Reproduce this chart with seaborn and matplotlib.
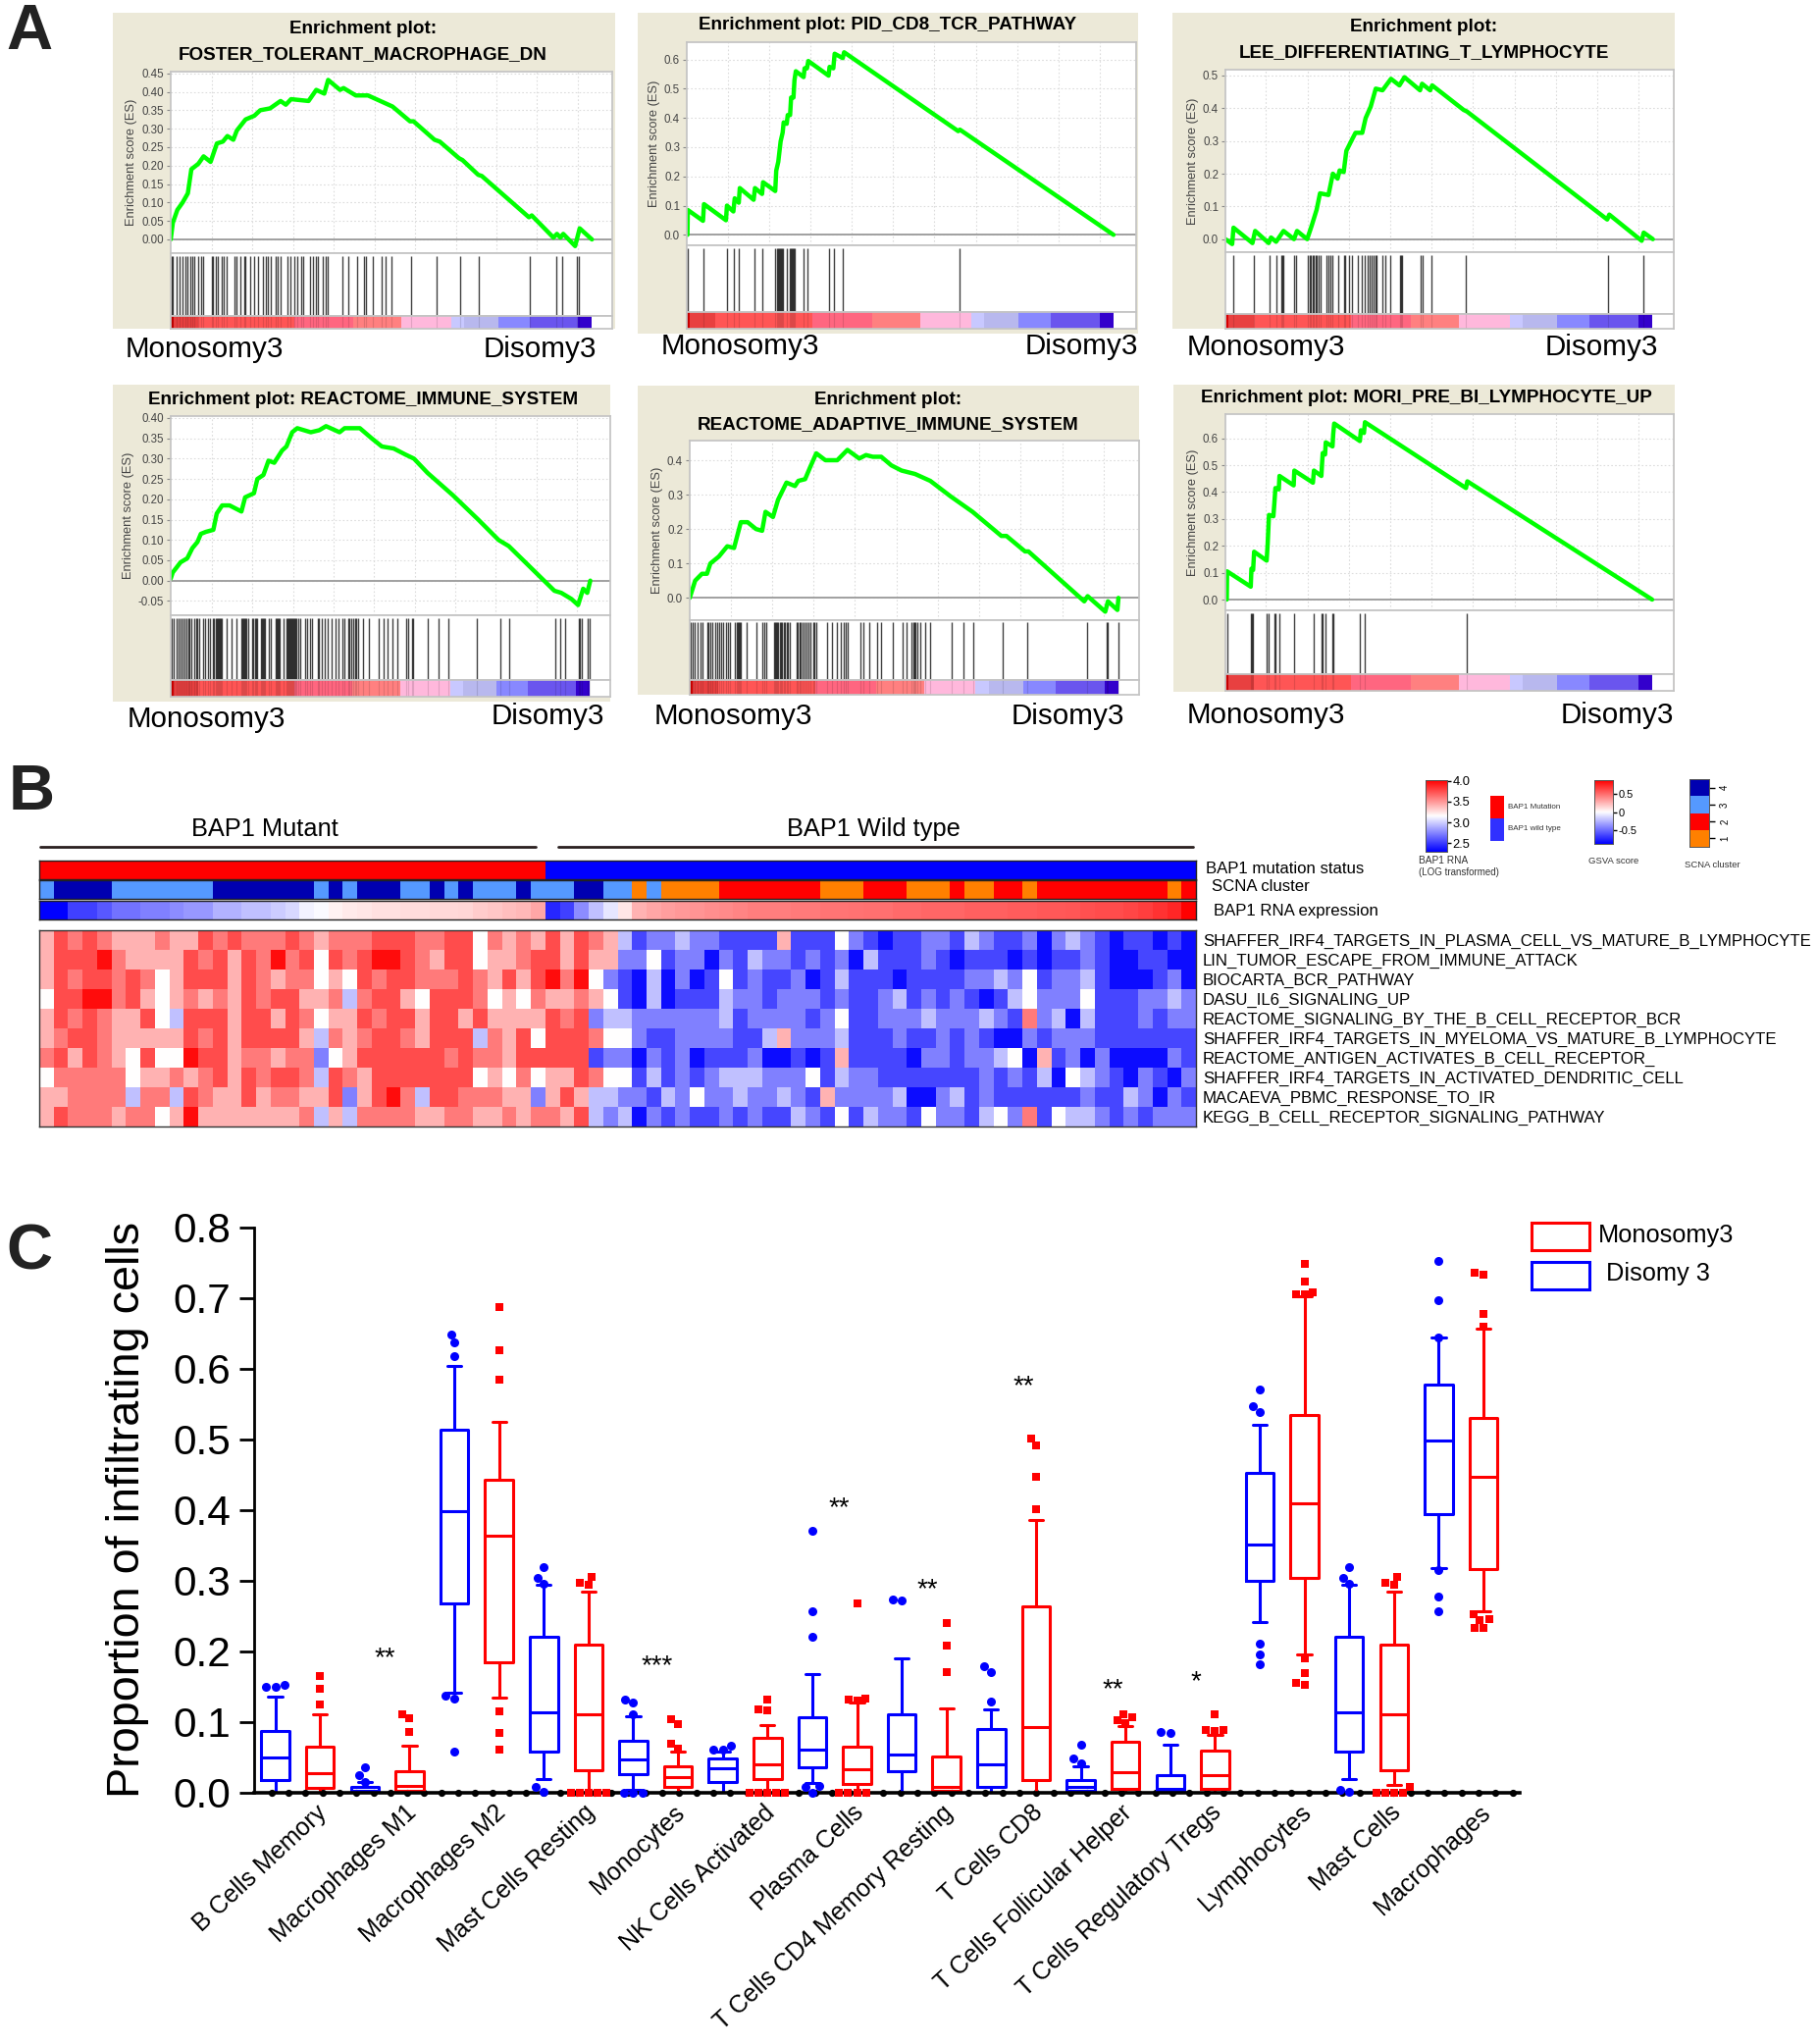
import numpy as np
import pandas as pd
import matplotlib
matplotlib.use("Agg")
import matplotlib.pyplot as plt
import seaborn as sns
from matplotlib.colors import ListedColormap
from matplotlib.patches import Rectangle
from matplotlib.transforms import ScaledTranslation

W, H = 1853, 2083

# panel A: running enrichment score, x is rank along the ranked list
foster_rank = [206,212,225,240,255,265,285,300,320,338,355,368,385,395,420,445,462,490,520,535,550,600,622,645,656,690,700,735,770,840,890,900,960,975,1030,1040,1085,1095,1230,1238,1300,1310,1320,1328,1362,1375,1410]
foster_es = [0,.045,.08,.1,.125,.19,.205,.225,.21,.26,.265,.28,.27,.295,.325,.335,.35,.355,.375,.365,.38,.375,.405,.395,.432,.405,.41,.39,.39,.36,.32,.32,.27,.265,.22,.215,.175,.172,.06,.065,.005,.015,.005,.015,-.018,.03,0]
foster_hits = [208,213,222,232,240,248,255,262,268,272,285,292,298,323,327,335,342,352,358,365,388,393,405,415,420,432,445,455,470,478,485,492,505,512,520,540,548,560,568,578,585,605,612,620,628,640,650,655,697,715,738,758,765,785,808,820,838,893,965,1032,1087,1233,1308,1325,1368,1372]

pid_rank = [176,177,222,225,290,293,312,316,328,331,372,376,397,400,436,439,445,452,458,461,470,473,480,483,490,493,497,520,523,530,534,594,597,608,612,636,640,978,983,1438]
pid_es = [0,.085,.048,.105,.05,.1,.08,.125,.11,.16,.12,.16,.14,.18,.15,.22,.25,.32,.35,.385,.38,.41,.41,.47,.47,.53,.56,.54,.57,.57,.595,.545,.575,.57,.62,.605,.625,.355,.36,0]
pid_hits = [177,222,292,313,328,374,398,437,440,443,446,449,452,455,458,469,480,483,486,489,492,495,521,530,594,610,637,982]

lee_rank = [200,220,224,280,288,328,335,350,372,403,412,442,455,470,480,505,518,532,538,550,558,575,585,605,615,630,645,665,690,715,730,776,782,806,812,905,915,1330,1336,1432,1438,1465]
lee_es = [0,-.015,.035,-.012,.025,-.012,.005,-.008,.025,0,.025,0,.04,.09,.14,.135,.2,.185,.21,.205,.27,.305,.325,.325,.37,.405,.46,.455,.49,.47,.495,.455,.475,.455,.47,.395,.39,.06,.075,-.005,.02,0]
lee_hits = [222,285,332,352,365,368,372,402,410,444,449,453,458,462,466,471,476,481,500,505,510,516,534,550,555,565,575,593,603,612,620,626,632,638,643,648,664,672,688,716,720,724,778,783,810,910,1333,1436]

immune_rank = [216,222,245,265,280,295,305,320,342,352,368,390,425,436,462,472,490,505,522,545,558,575,590,630,655,675,715,730,775,810,840,875,910,935,975,1050,1125,1185,1215,1350,1370,1400,1420,1435,1447,1456]
immune_es = [.005,.02,.045,.055,.08,.095,.115,.12,.125,.165,.185,.185,.17,.205,.215,.25,.26,.295,.29,.32,.33,.365,.375,.365,.37,.38,.365,.375,.375,.35,.33,.325,.31,.3,.265,.21,.15,.1,.085,-.025,-.03,-.045,-.06,-.02,-.03,0]
immune_hits = [218,224,232,238,245,252,258,262,268,272,276,285,290,295,300,312,318,325,333,340,345,348,351,354,357,360,364,368,382,395,410,425,428,431,434,437,440,445,458,461,464,467,470,482,485,488,491,494,505,512,525,528,531,534,537,548,558,561,564,567,570,573,576,579,582,585,588,592,600,612,620,628,634,650,655,662,670,680,692,702,712,722,730,740,745,750,755,760,765,770,785,803,832,845,858,872,885,912,918,928,933,976,1007,1036,1121,1190,1215,1354,1366,1381,1421,1425,1431,1448,1454]

adaptive_rank = [184,200,220,235,245,270,295,315,335,355,380,398,408,430,445,470,495,505,525,540,558,585,620,650,685,705,725,750,780,810,850,895,955,1020,1105,1120,1175,1185,1350,1360,1412,1420,1448,1451]
adaptive_es = [0,.05,.07,.07,.1,.12,.15,.145,.22,.22,.2,.195,.25,.235,.285,.335,.325,.34,.345,.38,.42,.4,.4,.43,.405,.415,.41,.41,.385,.37,.36,.34,.295,.25,.18,.18,.135,.135,-.01,.005,-.04,-.01,-.035,0]
adaptive_hits = [186,192,198,206,216,222,236,240,244,252,258,265,272,278,284,290,296,302,318,322,325,328,331,335,352,382,398,405,410,432,435,438,442,446,450,454,458,462,466,470,475,480,500,504,508,512,516,524,530,536,542,548,553,558,590,604,620,630,640,645,650,688,698,716,738,750,785,813,825,840,844,848,852,856,866,880,895,958,992,1022,1110,1180,1358,1416,1419,1450]

mori_rank = [204,205,275,277,282,285,322,325,329,342,345,348,358,360,402,404,459,462,484,486,488,495,497,517,519,522,598,601,610,613,912,916,1463]
mori_es = [0,.105,.048,.115,.11,.178,.145,.205,.315,.31,.36,.415,.41,.46,.425,.48,.435,.48,.46,.505,.545,.54,.585,.57,.615,.655,.59,.63,.62,.66,.415,.44,0]
mori_hits = [205,275,279,282,323,328,345,348,360,402,460,484,488,496,517,520,599,611,913]

metric_widths = [6,60,228,140,113,120,30,81,75,114,33]
metric_colors = ["#d80000","#e84040","#ff5555","#ff6680","#ff8080","#ffb8dc","#c8c8ff","#b8b8ee","#8888ff","#6a55ee","#3300cc"]

# panel B
status_codes = [1]*35 + [0]*45
scna_codes = [3,4,3,4,3,4,3,4,3,4,3,4,3,4,3,4,3,1,3,1,2,1,2,1,2,1,2,1,2,1,2]
scna_lengths = [1,4,7,7,1,1,1,3,2,1,1,1,3,1,3,2,2,1,1,4,7,3,3,3,1,2,2,1,9,1,1]
scna_colors = ["#ff8000","#ff0000","#5599ff","#0000b0"]
rna_expr = [-1,-1,-.75,-.75,-.65,-.55,-.55,-.5,-.5,-.45,-.4,-.4,-.3,-.3,-.25,-.25,-.2,-.15,-.05,-.02,.05,.08,.1,.12,.12,.14,.14,.15,.15,.16,.2,.22,.25,.28,.35,
            -.85,-.75,-.45,-.25,-.1,.1,.3,.35,.38,.4,.42,.44,.46,.48,.5,.5,.5,.52,.52,.54,.54,.55,.56,.56,.58,.58,.6,.6,.6,.62,.62,.62,.64,.64,.65,.65,.66,.68,.7,.7,.72,.75,.8,.85,1.0]

gene_sets = ["SHAFFER_IRF4_TARGETS_IN_PLASMA_CELL_VS_MATURE_B_LYMPHOCYTE","LIN_TUMOR_ESCAPE_FROM_IMMUNE_ATTACK",
             "BIOCARTA_BCR_PATHWAY","DASU_IL6_SIGNALING_UP","REACTOME_SIGNALING_BY_THE_B_CELL_RECEPTOR_BCR",
             "SHAFFER_IRF4_TARGETS_IN_MYELOMA_VS_MATURE_B_LYMPHOCYTE","REACTOME_ANTIGEN_ACTIVATES_B_CELL_RECEPTOR_",
             "SHAFFER_IRF4_TARGETS_IN_ACTIVATED_DENDRITIC_CELL","MACAEVA_PBMC_RESPONSE_TO_IR","KEGG_B_CELL_RECEPTOR_SIGNALING_PATHWAY"]
# gsva scores read as coarse levels, one digit per sample
gsva_levels = [-.95,-.72,-.5,-.25,0,.3,.52,.7,.95]
gsva_rows = [
    "5767655565"+"5767666765"+"6667776677"+"4656575765"+"3122322111"+"1511142101"+"1221321120"+"2321011010",
    "5777865555"+"7675768674"+"7678876577"+"4556775755"+"2241220213"+"2212120311"+"1210111010"+"1121001100",
    "5767767645"+"7775765664"+"5476776667"+"6575786842"+"1030201412"+"1120131110"+"1111223241"+"2231000120",
    "4778867545"+"6565767755"+"6367754777"+"6454655654"+"1030111322"+"1222121123"+"1212101342"+"2241112232",
    "5767655743"+"7775775764"+"5576775775"+"7555576723"+"3222222312"+"2221241122"+"2322232162"+"3031112122",
    "5677655555"+"7675777753"+"6567765777"+"3657477764"+"4211222211"+"3522231112"+"1121210021"+"2221111111",
    "6757654744"+"8775665662"+"4577777767"+"6657777712"+"2021201112"+"0010151111"+"0221223405"+"1202000021",
    "4666664556"+"5675767763"+"7657777777"+"4546455764"+"4131212333"+"2224132211"+"1111121213"+"0432102102",
    "5566663663"+"7655756655"+"7257863776"+"6655257533"+"2213242232"+"2321522223"+"0023121111"+"1121132021",
    "5766656645"+"8555555563"+"5366665566"+"5565665732"+"3021211212"+"1132141322"+"1422134261"+"4332121222",
]

# panel C, 28 boxes in Disomy / Monosomy pairs
cell_types = ["B Cells Memory","Macrophages M1","Macrophages M2","Mast Cells Resting","Monocytes","NK Cells Activated",
              "Plasma Cells","T Cells CD4 Memory Resting","T Cells CD8","T Cells Follicular Helper","T Cells Regulatory Tregs",
              "Lymphocytes","Mast Cells","Macrophages"]
whisker_low = [0,0,0,0,.141,.134,.019,0,.003,0,0,0,.013,0,0,0,0,0,0,0,0,0,.241,.196,.019,.011,.317,.256]
q1 = [.018,.006,0,.002,.268,.184,.057,.031,.026,.007,.014,.019,.036,.012,.03,.002,.008,.018,.002,.005,.001,.005,.299,.304,.057,.031,.394,.316]
median = [.05,.027,.002,.009,.398,.363,.113,.11,.047,.021,.034,.04,.061,.032,.054,.008,.04,.092,.008,.028,.005,.024,.351,.41,.113,.11,.499,.447]
q3 = [.087,.064,.008,.03,.514,.443,.22,.209,.073,.037,.048,.077,.107,.064,.111,.051,.089,.264,.018,.071,.025,.059,.452,.535,.22,.209,.578,.53]
whisker_high = [.135,.11,.014,.066,.604,.525,.294,.284,.108,.057,.057,.095,.167,.127,.19,.119,.118,.386,.037,.094,.068,.081,.521,.702,.294,.284,.644,.657]
outliers = [
    [.152,.15,.15],[.165,.146,.125],[.036,.025,.015],[.111,.105,.085],
    [.649,.637,.618,.137,.133,.058],[.687,.626,.584,.115,.084,.06],
    [.319,.304,.295,.007,.001],[.305,.297,.294,0,0,0,0,0],
    [.132,.127,.111,0,0,0],[.104,.096,.069,.062],
    [.066,.06,.06],[.131,.116,.117,0,0,0,0,0],
    [.371,.256,.22,.009,.008,0],[.267,.132,.13,.133,0,0,0,0],
    [.273,.272],[.24,.208,.17],
    [.178,.17,.129],[.501,.491,.447,.401],
    [.068,.048,.041],[.11,.106,.102,.098],
    [.085,.084],[.11,.088,.087,.088],
    [.571,.547,.538,.211,.196,.182],[.749,.724,.708,.706,.705,.19,.169,.155,.152],
    [.319,.304,.295,.004,.001],[.305,.297,.294,.008,0,0,0,0],
    [.753,.697,.644,.315,.277,.257],[.736,.733,.678,.66,.252,.245,.244,.233,.233],
]
star_labels = ["**","***","**","**","**","**","*"]
star_box = [2.44,8.52,12.59,14.57,16.72,18.71,20.57]
star_value = [.195,.184,.408,.293,.58,.151,.162]

sns.set_theme(style="white", rc={"text.color": "black", "axes.labelcolor": "black",
                                 "xtick.color": "black", "ytick.color": "black"})
plt.rcParams["font.family"] = ["Liberation Sans", "DejaVu Sans"]

fig = plt.figure(figsize=(W / 100, H / 100), dpi=100, facecolor="white")


def px_axes(left, top, right, bottom):
    return fig.add_axes([left / W, 1 - bottom / H, (right - left) / W, (bottom - top) / H])


bg = fig.add_axes([0, 0, 1, 1], zorder=-1)
bg.set_xlim(0, W)
bg.set_ylim(H, 0)
bg.axis("off")


def gsea_panel(p):
    bg.add_patch(Rectangle((p["beige"][0], p["beige"][1]), p["beige"][2] - p["beige"][0], p["beige"][3] - p["beige"][1],
                           facecolor="#ece9d8", edgecolor="none"))
    for y, line in zip(p["title_y"], p["title"]):
        bg.text(p["title_x"], y + 2, line, ha="center", va="center", fontsize=13.6, fontweight="bold")
    bg.text(p["mono"][0], p["mono"][1] + 1, "Monosomy3", ha="left", va="center", fontsize=21.3)
    bg.text(p["diso"][0], p["diso"][1] + 1, "Disomy3", ha="right", va="center", fontsize=21.3)

    left, right = p["x"]
    top, low, rug_low, bar_low = p["y"]
    ax = px_axes(left, top, right, low)
    zero, ref_y, ref_val = p["zero"], p["ref"][0], p["ref"][1]
    per_px = ref_val / (zero - ref_y)
    ax.set_ylim((zero - low) * per_px, (zero - top) * per_px)
    ax.set_xlim(*p["xlim"])
    ax.set_xticks(np.arange(p["grid"][0], p["xlim"][1], p["grid"][1]))
    ax.set_yticks(p["ticks"])
    ax.set_yticklabels([p["fmt"] % t for t in p["ticks"]])
    ax.set_xticklabels([])
    ax.grid(True, color="#dcdcdc", lw=0.8, ls=(0, (1.5, 2)))
    ax.axhline(0, color="#a0a0a0", lw=1.4)
    sns.lineplot(x=p["rank"], y=p["es"], sort=False, estimator=None, color="#00ff00", lw=3.2, ax=ax)
    ax.tick_params(axis="y", left=True, length=3, width=0.8, color="#888888", labelsize=8.3, labelcolor="#444444", pad=2)
    ax.set_ylabel("Enrichment score (ES)", fontsize=9.3, color="#444444", labelpad=3)
    for s in ax.spines.values():
        s.set_color("#c4c4c4")

    rug = px_axes(left, low, right, rug_low)
    rug.set_xlim(*p["xlim"])
    rug.set_ylim(0, 1)
    sns.rugplot(x=p["hits"], height=0.96, color="black", lw=1.2, alpha=0.75, expand_margins=False, ax=rug)
    rug.set_xticks([])
    rug.set_yticks([])
    for s in rug.spines.values():
        s.set_color("#c4c4c4")

    bar = px_axes(left, rug_low, right, bar_low)
    strip = np.repeat(np.arange(len(metric_widths)), metric_widths)[None, :]
    bar.imshow(strip, cmap=ListedColormap(metric_colors), aspect="auto", interpolation="nearest",
               extent=[p["xlim"][0], p["bar_end"], 0, 1])
    bar.vlines(p["hits"], 0, 1, color="black", lw=0.8, alpha=0.12)
    bar.set_xlim(*p["xlim"])
    bar.set_ylim(0, 1)
    bar.set_xticks([])
    bar.set_yticks([])
    for s in bar.spines.values():
        s.set_color("#c4c4c4")


panels = [
    dict(rank=foster_rank, es=foster_es, hits=foster_hits, title=["Enrichment plot:", "FOSTER_TOLERANT_MACROPHAGE_DN"],
         title_x=370, title_y=[28, 54], beige=(115, 13, 627, 335), x=(174, 624), y=(73, 258, 322, 335), xlim=(206, 1468),
         bar_end=1407, zero=244, ref=(74.7, .45), ticks=[0, .05, .1, .15, .2, .25, .3, .35, .4, .45], fmt="%.2f",
         grid=(323, 116.3), mono=(128, 355), diso=(608, 355)),
    dict(rank=pid_rank, es=pid_es, hits=pid_hits, title=["Enrichment plot: PID_CD8_TCR_PATHWAY"],
         title_x=905, title_y=[24], beige=(650, 13, 1160, 340), x=(700, 1158), y=(43, 250, 318, 335), xlim=(174, 1505),
         bar_end=1438, zero=239.3, ref=(60.7, .6), ticks=[0, .1, .2, .3, .4, .5, .6], fmt="%.1f",
         grid=(295, 122.5), mono=(674, 352), diso=(1160, 352)),
    dict(rank=lee_rank, es=lee_es, hits=lee_hits, title=["Enrichment plot:", "LEE_DIFFERENTIATING_T_LYMPHOCYTE"],
         title_x=1451, title_y=[26, 52], beige=(1195, 13, 1707, 335), x=(1249, 1706), y=(71, 257, 320, 335), xlim=(200, 1527),
         bar_end=1463, zero=243.7, ref=(77, .5), ticks=[0, .1, .2, .3, .4, .5], fmt="%.1f",
         grid=(320, 122.6), mono=(1210, 353), diso=(1690, 353)),
    dict(rank=immune_rank, es=immune_es, hits=immune_hits, title=["Enrichment plot: REACTOME_IMMUNE_SYSTEM"],
         title_x=370, title_y=[405], beige=(115, 392, 622, 715), x=(174, 622), y=(424, 627, 693, 710), xlim=(216, 1515),
         bar_end=1453, zero=591.7, ref=(426, .4), ticks=[-.05, 0, .05, .1, .15, .2, .25, .3, .35, .4], fmt="%.2f",
         grid=(337, 120), mono=(130, 732), diso=(616, 729)),
    dict(rank=adaptive_rank, es=adaptive_es, hits=adaptive_hits, title=["Enrichment plot:", "REACTOME_ADAPTIVE_IMMUNE_SYSTEM"],
         title_x=905, title_y=[406, 431], beige=(650, 393, 1161, 708), x=(703, 1161), y=(449, 632, 693, 708), xlim=(184, 1512),
         bar_end=1450, zero=609.3, ref=(469, .4), ticks=[0, .1, .2, .3, .4], fmt="%.1f",
         grid=(305, 122.5), mono=(667, 729), diso=(1146, 729)),
    dict(rank=mori_rank, es=mori_es, hits=mori_hits, title=["Enrichment plot: MORI_PRE_BI_LYMPHOCYTE_UP"],
         title_x=1454, title_y=[403], beige=(1196, 392, 1707, 705), x=(1249, 1706), y=(422, 622, 687, 704), xlim=(200, 1527),
         bar_end=1463, zero=611, ref=(446.7, .6), ticks=[0, .1, .2, .3, .4, .5, .6], fmt="%.1f",
         grid=(320, 122.6), mono=(1210, 728), diso=(1706, 728)),
]
for panel in panels:
    gsea_panel(panel)

for letter, x, y in [("A", 30, 33), ("B", 32, 808), ("C", 30, 1277)]:
    bg.text(x, y, letter, ha="center", va="center", fontsize=47, color="#222222", fontweight="bold")

# panel B
heat_left, heat_right = 40, 1219


def strip_axes(top, bottom, values, **kw):
    a = px_axes(heat_left, top, heat_right, bottom)
    sns.heatmap(np.array([values]), ax=a, cbar=False, xticklabels=False, yticklabels=False, **kw)
    for s in a.spines.values():
        s.set_visible(True)
        s.set_color("#222222")
        s.set_linewidth(1.0)
    return a


strip_axes(877, 896, status_codes, cmap=ListedColormap(["#0000ff", "#ff0000"]), vmin=0, vmax=1)
strip_axes(897, 916, np.repeat(scna_codes, scna_lengths), cmap=ListedColormap(scna_colors), vmin=1, vmax=4)
strip_axes(918, 937, rna_expr, cmap="bwr", vmin=-1, vmax=1)

gsva = pd.DataFrame([[gsva_levels[int(c)] for c in row] for row in gsva_rows], index=gene_sets)
ax_heat = px_axes(heat_left, 948, heat_right, 1148)
sns.heatmap(gsva, ax=ax_heat, cmap="bwr", vmin=-1, vmax=1, cbar=False, xticklabels=False, yticklabels=True)
ax_heat.yaxis.tick_right()
ax_heat.tick_params(axis="y", length=0, pad=5, labelsize=12.05, labelrotation=0)
ax_heat.set_ylabel("")
for lab in ax_heat.get_yticklabels():
    lab.set_va("center_baseline")
for s in ax_heat.spines.values():
    s.set_visible(True)
    s.set_color("#333333")
    s.set_linewidth(1.0)

bg.plot([41, 546], [863, 863], color="#2a2020", lw=2)
bg.plot([569, 1216], [863, 863], color="#2a2020", lw=2)
bg.text(270, 845, "BAP1 Mutant", ha="center", va="center", fontsize=18.3)
bg.text(890, 845, "BAP1 Wild type", ha="center", va="center", fontsize=18.3)
bg.text(1229, 885, "BAP1 mutation status", va="center", fontsize=12.1)
bg.text(1235, 904, "SCNA cluster", va="center", fontsize=12.1)
bg.text(1237, 928, "BAP1 RNA expression", va="center", fontsize=12.1)

grad = np.linspace(1, -1, 128)[:, None]
ax_rna = px_axes(1453, 795, 1475, 868)
ax_rna.imshow(grad, cmap="bwr", aspect="auto", extent=[0, 1, 2.29, 4.02])
ax_rna.set_xticks([])
ax_rna.set_yticks([2.5, 3, 3.5, 4])
ax_rna.set_yticklabels(["2.5", "3.0", "3.5", "4.0"])
ax_rna.yaxis.tick_right()
ax_rna.tick_params(axis="y", right=True, length=3, width=1, labelsize=9.3, pad=1)

ax_gsva = px_axes(1625, 795, 1644, 860)
ax_gsva.imshow(grad, cmap="bwr", aspect="auto", extent=[0, 1, -.88, .88])
ax_gsva.set_xticks([])
ax_gsva.set_yticks([-.5, 0, .5])
ax_gsva.set_yticklabels(["-0.5", "0", "0.5"])
ax_gsva.yaxis.tick_right()
ax_gsva.tick_params(axis="y", right=True, length=3, width=1, labelsize=8, pad=1)

ax_status = px_axes(1519, 811, 1533, 857)
sns.heatmap([[1], [0]], ax=ax_status, cmap=ListedColormap(["#3030ff", "#ff0000"]), cbar=False,
            xticklabels=False, yticklabels=False)
bg.text(1537, 822, "BAP1 Mutation", va="center", fontsize=5.8, color="#333333")
bg.text(1537, 845, "BAP1 wild type", va="center", fontsize=5.8, color="#333333")

ax_scna = px_axes(1722, 794, 1742, 863)
sns.heatmap([[4], [3], [2], [1]], ax=ax_scna, cmap=ListedColormap(scna_colors), cbar=False, xticklabels=False,
            yticklabels=False)
ax_scna.yaxis.tick_right()
ax_scna.set_yticks([0.5, 1.5, 2.5, 3.5])
ax_scna.set_yticklabels(["4", "3", "2", "1"], rotation=90, va="center")
ax_scna.tick_params(axis="y", right=True, length=4, width=1, labelsize=7, pad=4)
for a in (ax_rna, ax_gsva, ax_scna):
    for s in a.spines.values():
        s.set_visible(True)
        s.set_color("#555555")
        s.set_linewidth(0.7)

bg.text(1446, 877, "BAP1 RNA", va="center", fontsize=7.3, color="#333333")
bg.text(1446, 889, "(LOG transformed)", va="center", fontsize=7, color="#333333")
bg.text(1645, 877, "GSVA score", ha="center", va="center", fontsize=6.8, color="#333333")
bg.text(1745, 881, "SCNA cluster", ha="center", va="center", fontsize=6.8, color="#333333")

# panel C
rows = []
for i, stats in enumerate(zip(whisker_low, q1, median, q3, whisker_high)):
    for v in stats:
        rows.append({"box": i, "group": "Disomy 3" if i % 2 == 0 else "Monosomy3", "value": v})
boxes = pd.DataFrame(rows)
points = pd.DataFrame([{"box": i, "value": v} for i, vals in enumerate(outliers) for v in vals])
box_order = list(range(28))
group_colors = {"Disomy 3": "#0000ff", "Monosomy3": "#ff0000"}

ax = px_axes(259, 1251, 1549, 1826.5)
sns.boxplot(data=boxes, x="box", y="value", hue="group", order=box_order, palette=group_colors, dodge=False,
            width=0.625, fill=False, whis=(0, 100), fliersize=0, linewidth=2.2, legend=False, ax=ax)
sns.swarmplot(data=points[points["box"] % 2 == 0], x="box", y="value", order=box_order, color="#0000ff", marker="o",
              size=6.5, ax=ax, clip_on=False, zorder=4)
sns.swarmplot(data=points[points["box"] % 2 == 1], x="box", y="value", order=box_order, color="#ff0000", marker="s",
              size=6.2, ax=ax, clip_on=False, zorder=4)

ax.set_xlim(-0.474, 27.81)
ax.set_ylim(0, 0.8)
ax.set_yticks(np.arange(0, 0.81, 0.1))
ax.set_yticklabels(["%.1f" % t for t in np.arange(0, 0.81, 0.1)])
ax.set_ylabel("Proportion of infiltrating cells", fontsize=33.7, labelpad=18)
ax.set_xlabel("")
ax.tick_params(axis="y", left=True, length=11, width=2, labelsize=30.5, pad=6)
ax.set_xticks(np.arange(14) * 2 + 0.5)
ax.set_xticklabels(cell_types, rotation=43, ha="right", rotation_mode="anchor", fontsize=18)
ax.tick_params(axis="x", which="major", bottom=False, pad=0)
ax.set_xticks(np.arange(-0.09, 27.7, 0.38), minor=True)
ax.tick_params(axis="x", which="minor", bottom=True)
for t in ax.xaxis.get_minorticklines():
    t.set_marker("o")
    t.set_markersize(4.2)
    t.set_color("black")
    t.set_clip_on(False)
    t.set_zorder(5)
nudge = ScaledTranslation(0.18, 0, fig.dpi_scale_trans)
for lab in ax.get_xticklabels():
    lab.set_transform(lab.get_transform() + nudge)
sns.despine(ax=ax)
ax.spines["left"].set_linewidth(2)
ax.spines["left"].set_color("black")
ax.spines["bottom"].set_linewidth(2.6)
ax.spines["bottom"].set_color("black")
ax.patch.set_alpha(0)

for label, pos, val in zip(star_labels, star_box, star_value):
    ax.annotate(label, (pos, val), xytext=(0, -8), textcoords="offset points", ha="center", va="baseline", fontsize=20)

bg.add_patch(Rectangle((1561, 1246), 59, 28, facecolor="white", edgecolor="#ff0000", lw=2.2))
bg.add_patch(Rectangle((1561, 1286), 59, 28, facecolor="white", edgecolor="#0000ff", lw=2.2))
bg.text(1629, 1259, "Monosomy3", va="center", fontsize=18.3)
bg.text(1637, 1298, "Disomy 3", va="center", fontsize=18.3)

fig.savefig("out.png", dpi=100)
